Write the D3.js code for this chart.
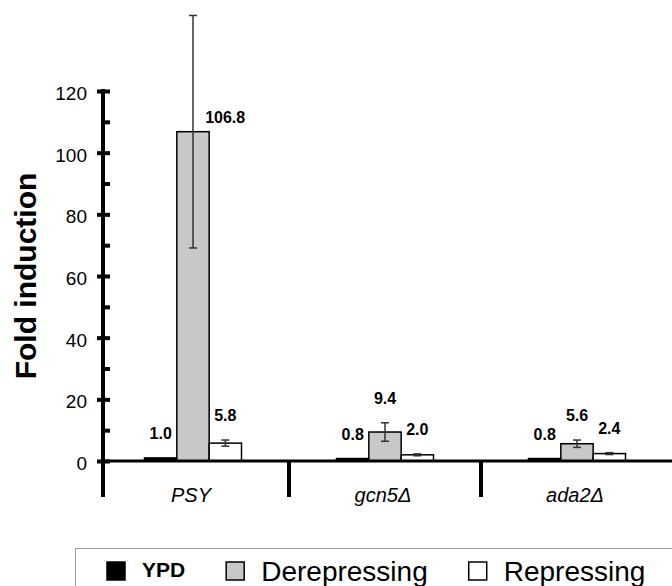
<!DOCTYPE html>
<html>
<head>
<meta charset="utf-8">
<script src="https://cdn.jsdelivr.net/npm/d3@7"></script>
<style>
  body { margin: 0; background: #fff; }
  svg { display: block; font-family: "Liberation Sans", Arial, Helvetica, sans-serif; }
</style>
</head>
<body>
<div id="canvas"></div>
<script>
// data
let categories = ["PSY", "gcn5\u0394", "ada2\u0394"];
let seriesNames = ["YPD", "Derepressing", "Repressing"];
let seriesColors = ["#000000", "#c8c8c8", "#ffffff"];
let ypdValues = [1.0, 0.8, 0.8];
let ypdErrors = [0, 0, 0];
let derepValues = [106.8, 9.4, 5.6];
let derepErrors = [37.7, 3.0, 1.2];
let repValues = [5.8, 2.0, 2.4];
let repErrors = [1.0, 0.3, 0.3];
let yTicks = [0, 20, 40, 60, 80, 100, 120];
let yMinorTicks = [10, 30, 50, 70, 90, 110];

window.onload = function () {
    let width = 672, height = 586;

    let svg = d3.select("#canvas").append("svg")
        .attr("width", width)
        .attr("height", height);

    // scales
    let y = d3.scaleLinear().domain([0, 120]).range([461, 91]);
    let x = d3.scaleBand().domain(categories).range([97, 673]).paddingInner(0);
    let inner = d3.scaleBand().domain(seriesNames).range([0, 97]);

    // flatten into bars
    let valueSets = [ypdValues, derepValues, repValues];
    let errorSets = [ypdErrors, derepErrors, repErrors];
    let bars = [];
    categories.forEach(function (c, ci) {
        seriesNames.forEach(function (s, si) {
            bars.push({cat: c, series: s, si: si, value: valueSets[si][ci], err: errorSets[si][ci]});
        });
    });
    let barX = function (d) { return x(d.cat) + x.bandwidth() / 2 - 48.5 + inner(d.series); };

    // bars
    svg.append("g").selectAll("rect")
        .data(bars)
        .enter().append("rect")
        .attr("x", barX)
        .attr("y", function (d) { return y(d.value); })
        .attr("width", inner.bandwidth())
        .attr("height", function (d) { return y(0) - y(d.value); })
        .style("fill", function (d) { return seriesColors[d.si]; })
        .style("stroke", "#000")
        .style("stroke-width", 1.5);

    // error bars
    let eb = svg.append("g").selectAll("g")
        .data(bars.filter(function (d) { return d.err > 0; }))
        .enter().append("g")
        .style("stroke", "#333")
        .style("stroke-width", 1.5);
    let cx = function (d) { return barX(d) + inner.bandwidth() / 2; };
    eb.append("line")
        .attr("x1", cx).attr("x2", cx)
        .attr("y1", function (d) { return y(d.value + d.err); })
        .attr("y2", function (d) { return y(d.value - d.err); });
    [1, -1].forEach(function (sign) {
        eb.append("line")
            .attr("x1", function (d) { return cx(d) - 4; })
            .attr("x2", function (d) { return cx(d) + 4; })
            .attr("y1", function (d) { return y(d.value + sign * d.err); })
            .attr("y2", function (d) { return y(d.value + sign * d.err); });
    });

    // value labels (the big error bar pushes its label to the side)
    svg.append("g").selectAll("text")
        .data(bars)
        .enter().append("text")
        .attr("x", function (d) {
            return d.err > 10 ? barX(d) + inner.bandwidth() - 4 : cx(d);
        })
        .attr("y", function (d) {
            return d.err > 10 ? y(d.value) - 9 : y(d.value + d.err) - 19;
        })
        .attr("text-anchor", function (d) { return d.err > 10 ? "start" : "middle"; })
        .style("font-size", "16px")
        .style("font-weight", "bold")
        .text(function (d) { return d.value.toFixed(1); });

    // x axis line + category separators
    svg.append("line")
        .attr("x1", 101).attr("x2", width)
        .attr("y1", y(0)).attr("y2", y(0))
        .style("stroke", "#000").style("stroke-width", 3);
    svg.append("g").selectAll("line")
        .data(categories.slice(1))
        .enter().append("line")
        .attr("x1", function (d) { return x(d); })
        .attr("x2", function (d) { return x(d); })
        .attr("y1", y(0)).attr("y2", 497)
        .style("stroke", "#000").style("stroke-width", 4);
    svg.append("g").selectAll("text")
        .data(categories)
        .enter().append("text")
        .attr("x", function (d) { return x(d) + x.bandwidth() / 2 - 2; })
        .attr("y", 502)
        .attr("text-anchor", "middle")
        .style("font-size", "20px")
        .style("font-style", "italic")
        .text(function (d) { return d; });

    // y axis
    let axisX = 103;
    let yAxis = svg.append("g")
        .attr("transform", "translate(" + axisX + ",0)")
        .call(d3.axisLeft(y).tickValues(yTicks).tickSize(6).tickPadding(10));
    yAxis.select(".domain").remove();
    yAxis.selectAll(".tick line").style("stroke-width", 4);
    yAxis.selectAll(".tick text")
        .attr("dy", "0.45em")
        .style("font-size", "19px")
        .style("fill", "#000")
        .attr("font-family", null);
    let yAxisR = svg.append("g")
        .attr("transform", "translate(" + axisX + ",0)")
        .call(d3.axisRight(y).tickValues(yTicks.concat(yMinorTicks)).tickSize(7).tickFormat(""));
    yAxisR.select(".domain").remove();
    yAxisR.selectAll(".tick line").style("stroke-width", 4);
    svg.append("line")
        .attr("x1", axisX).attr("x2", axisX)
        .attr("y1", y(120) - 2).attr("y2", 497)
        .style("stroke", "#000").style("stroke-width", 4);

    svg.append("text")
        .attr("transform", "translate(36," + 276 + ") rotate(-90)")
        .attr("text-anchor", "middle")
        .style("font-size", "30px")
        .style("font-weight", "bold")
        .text("Fold induction");

    // legend
    svg.append("rect")
        .attr("x", 75.5).attr("y", 548.5)
        .attr("width", 700).attr("height", 100)
        .style("fill", "none").style("stroke", "#999").style("stroke-width", 1);
    let lx = 107;
    seriesNames.forEach(function (s, i) {
        svg.append("rect")
            .attr("x", lx).attr("y", 562)
            .attr("width", 18).attr("height", 18)
            .style("fill", seriesColors[i])
            .style("stroke", "#000").style("stroke-width", 1.5);
        let t = svg.append("text")
            .attr("x", lx + 35).attr("y", i === 0 ? 577 : 581)
            .style("font-size", i === 0 ? "21px" : "28px")
            .style("font-weight", i === 0 ? "bold" : "normal")
            .text(s);
        lx = lx + 35 + t.node().getComputedTextLength() + 41;
    });
};
</script>
</body>
</html>
